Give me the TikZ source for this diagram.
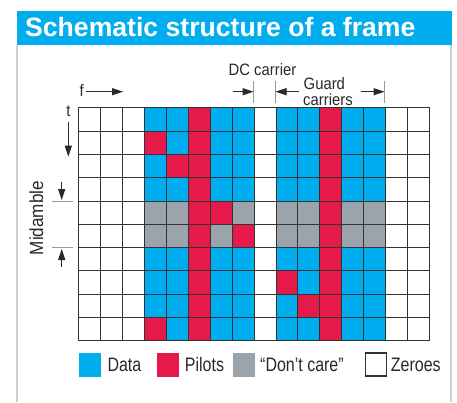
\documentclass[tikz,border=0pt]{standalone}
\usepackage{fontspec}
\setmainfont{Liberation Sans}
\newfontfamily\labelfont[FakeStretch=0.9]{Liberation Sans}
\newfontfamily\legendfont[FakeStretch=0.82]{Liberation Sans}
\usetikzlibrary{arrows.meta}

\definecolor{headblue}{HTML}{00AEEF}
\definecolor{celld}{HTML}{00AEEF}
\definecolor{cellp}{HTML}{E5194A}
\definecolor{cellg}{HTML}{9BA4AA}
\definecolor{cellz}{HTML}{FFFFFF}
\definecolor{gridgray}{HTML}{333333}
\definecolor{panelgray}{HTML}{CDD0D2}
\definecolor{inkgray}{HTML}{2A2A2A}

\tikzset{
  gridline/.style={draw=gridgray, line width=1.2pt, line cap=rect},
  panelline/.style={draw=panelgray, line width=1.6pt},
  tickline/.style={draw=gray!80, line width=0.8pt},
  pointer/.style={draw=inkgray, line width=1pt, -{Triangle[length=11pt,width=7pt]}},
  labeltext/.style={inner sep=0pt, text=inkgray, font=\labelfont\fontsize{16.5}{18}\selectfont},
  legendtext/.style={inner sep=0pt, text=inkgray, font=\legendfont\fontsize{19.5}{21}\selectfont, anchor=west},
  legendbox/.style={inner sep=0pt, minimum width=22pt, minimum height=24pt, anchor=west}
}

\begin{document}
\begin{tikzpicture}[x=1pt, y=-1pt,
  declare function={colx(\k)=round(78.3+\k*21.92)+0.5; rowy(\r)=round(107.3+\r*23.3)+0.5;}]
\useasboundingbox (0,0) rectangle (457,402);
\fill[white] (0,0) rectangle (457,402);

% panel frame and heading bar
\draw[panelline] (17,45) -- (17,402);
\draw[panelline] (451,45) -- (451,402);
\fill[headblue] (17,11) rectangle (452,45.3);
\node[anchor=base west, inner sep=0pt, text=white,
      font=\fontsize{26.6}{30}\selectfont\bfseries] (title) at (25,36.7)
  {Schematic structure of a frame};

% cell grid: 16 subcarriers by 10 symbols, lines on pixel centres
\foreach \rowcodes [count=\r from 0] in {
  {z,z,z,d,d,p,d,d,z,d,d,p,d,d,z,z},
  {z,z,z,p,d,p,d,d,z,d,d,p,d,d,z,z},
  {z,z,z,d,p,p,d,d,z,d,d,p,d,d,z,z},
  {z,z,z,d,d,p,d,d,z,d,d,p,d,d,z,z},
  {z,z,z,g,g,p,p,g,z,g,g,p,g,g,z,z},
  {z,z,z,g,g,p,g,p,z,g,g,p,g,g,z,z},
  {z,z,z,d,d,p,d,d,z,d,d,p,d,d,z,z},
  {z,z,z,d,d,p,d,d,z,p,d,p,d,d,z,z},
  {z,z,z,d,d,p,d,d,z,d,p,p,d,d,z,z},
  {z,z,z,p,d,p,d,d,z,d,d,p,d,d,z,z}} {
  \foreach \c [count=\k from 0] in \rowcodes {
    \fill[fill=cell\c] ({colx(\k)},{rowy(\r)}) rectangle ({colx(\k+1)},{rowy(\r+1)});
  }
}
\foreach \k in {0,...,16}
  \draw[gridline] ({colx(\k)},{rowy(0)}) -- ({colx(\k)},{rowy(10)});
\foreach \r in {0,...,10}
  \draw[gridline] ({colx(0)},{rowy(\r)}) -- ({colx(16)},{rowy(\r)});

% frequency and time axes
\node[labeltext, anchor=base west] (ftext) at (79.5,96.7) {f};
\coordinate (fa) at (86,91.7);
\coordinate (fb) at (123,91.7);
\draw[pointer] (fa) -- (fb);
\node[labeltext, anchor=base] (ttext) at (68.5,116.7) {t};
\coordinate (ta) at (68.3,121.7);
\coordinate (tb) at (68.3,156.7);
\draw[pointer] (ta) -- (tb);

% midamble marker
\node[labeltext, font=\labelfont\fontsize{19}{21}\selectfont, rotate=90, anchor=base] (mid) at (43,218) {Midamble};
\coordinate (m1a) at (51.7,201.5); \coordinate (m1b) at (73,201.5);
\coordinate (m2a) at (51.7,247.5); \coordinate (m2b) at (73,247.5);
\draw[tickline] (m1a) -- (m1b);
\draw[tickline] (m2a) -- (m2b);
\coordinate (md0) at (61.7,181.7); \coordinate (md1) at (61.7,200);
\coordinate (mu0) at (61.7,266.7); \coordinate (mu1) at (61.7,249);
\draw[pointer] (md0) -- (md1);
\draw[pointer] (mu0) -- (mu1);

% DC and guard carriers
\node[labeltext, anchor=base] (dc) at (262.5,75) {DC carrier};
\node[labeltext, anchor=base west] (guard1) at (303.5,89) {Guard};
\node[labeltext, anchor=base west] (guard2) at (303,105) {carriers};
\coordinate (k1a) at (253.5,80.7); \coordinate (k1b) at (253.5,102.7);
\coordinate (k2a) at (275.5,80.7); \coordinate (k2b) at (275.5,102.7);
\coordinate (k3a) at (384.5,80.7); \coordinate (k3b) at (384.5,102.7);
\draw[tickline] (k1a) -- (k1b);
\draw[tickline] (k2a) -- (k2b);
\draw[tickline] (k3a) -- (k3b);
\coordinate (dca) at (233,91.7);
\coordinate (gla) at (299,91.7);
\coordinate (gra) at (360.7,91.7);
\draw[pointer] (dca) -- (k1a |- dca);
\draw[pointer] (gla) -- (k2a |- gla);
\draw[pointer] (gra) -- (k3a |- gra);

% legend
\node[legendbox, fill=celld] (keyd) at (79,364.5) {};
\node[legendtext] (keydt) at (107.3,364.7) {Data};
\node[legendbox, fill=cellp] (keyp) at (157,364.5) {};
\node[legendtext] (keypt) at (184.7,364.7) {Pilots};
\node[legendbox, fill=cellg] (keyg) at (233,364.5) {};
\node[legendtext] (keygt) at (260,364.7) {“Don’t care”};
\node[legendbox, draw=gridgray, line width=1.2pt, fill=white, minimum width=21pt, minimum height=23pt] (keyz) at (365,364.5) {};
\node[legendtext] (keyzt) at (390.7,364.7) {Zeroes};
\end{tikzpicture}
\end{document}
